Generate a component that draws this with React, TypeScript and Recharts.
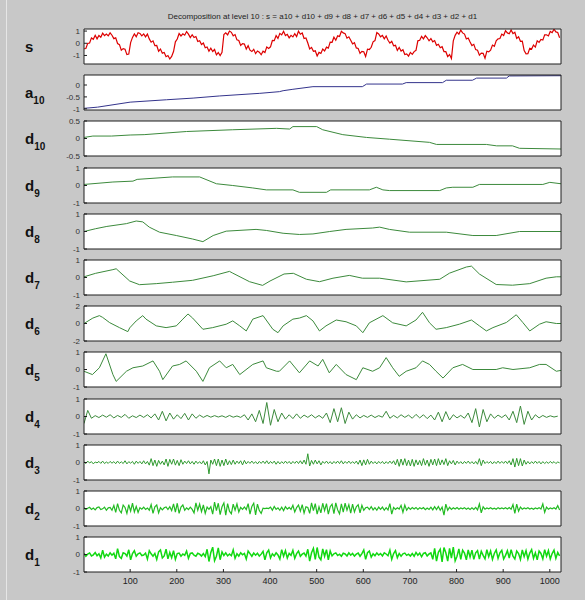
import { LineChart, Line, XAxis, YAxis, CartesianGrid } from 'recharts';

// sample axis 1..1024, ticks every 100
const X_TICKS = [100, 200, 300, 400, 500, 600, 700, 800, 900, 1000];

const S_VALUES = [
  -0.45, -0.43, -0.01, 0.02, 0.44, 0.33, 0.65, 0.36, 0.64, 0.49, 0.83, 0.62, 0.76, 0.61, 0.85, 0.66,
  0.38, 0.44, -0.02, -0.11, -0.57, -0.44, -0.49, -0.93, -0.88, 0.06, 0.48, 0.77, 0.54, 0.86, 0.81, 0.61,
  0.77, 0.52, 0.75, 0.36, 0.09, 0.2, -0.2, -0.18, -0.65, -0.47, -0.81, -0.75, -1.1, -1.01, -1.29, -1.08,
  -0.68, 0.12, 0.35, 0.8, 0.6, 0.77, 0.66, 0.96, 0.75, 0.47, 0.7, 0.47, 0.55, 0.15, 0.21, -0.1,
  0.02, -0.37, -0.31, -0.65, -0.41, -0.67, -0.51, -0.95, -0.76, -1.01, -0.75, 0.72, 0.85, 0.69, 1.0, 0.9,
  0.61, 0.71, 0.28, 0.23, -0.18, -0.03, -0.06, -0.47, -0.2, -0.57, -0.68, -0.5, -0.85, -0.63, -0.73, -0.94,
  -0.65, -0.76, -0.3, -0.42, -0.29, 0.23, 0.22, 0.63, 0.4, 0.81, 0.69, 0.98, 0.63, 0.73, 0.45, 0.65,
  0.52, 0.79, 0.55, 1.0, 0.74, 0.84, 0.39, 0.43, 0.02, -0.47, -0.34, -0.66, -0.62, -1.05, -0.75, -0.83,
  -0.48, -0.63, -0.32, -0.4, 0.09, 0.08, 0.5, 0.25, 0.61, 0.55, 0.98, 0.85, 0.79, 0.42, 0.53, 0.24,
  -0.05, 0.05, -0.38, -0.43, -0.83, -0.67, -0.69, -1.09, -0.48, -0.51, -0.33, 0.12, 0.22, 0.88, 0.76, 0.53,
  0.65, 0.37, 0.6, 0.25, 0.01, 0.16, -0.21, -0.17, -0.58, -0.35, -0.64, -0.53, -0.92, -0.87, -1.05, -0.75,
  -0.91, -0.68, -0.58, 0.2, 0.24, 0.57, 0.36, 0.63, 0.45, 0.2, 0.39, 0.12, 0.22, -0.17, -0.08, -0.37,
  -0.28, -0.68, -0.69, -1.09, -0.93, -1.25, 0.2, 0.65, 0.91, 0.75, 1.08, 0.85, 0.75, 0.35, 0.43, 0.1,
  -0.19, -0.09, -0.52, -0.57, -0.97, -0.81, -0.83, -1.23, -0.65, -0.71, -0.57, -0.15, -0.25, 0.21, 0.36, 0.39,
  0.75, 0.64, 1.03, 0.85, 0.78, 1.09, 0.79, 0.9, 0.4, 0.54, 0.16, 0.18, -0.6, -0.87, -0.85, -0.41,
  -0.48, -0.15, -0.31, 0.2, 0.07, 0.31, 0.26, 0.69, 0.69, 0.6, 0.97, 0.87, 1.15, 0.93, 0.88, 0.45,
];

// smooth components: [sample, value] vertices
const A10_PTS = [
  [1, -0.98], [30, -0.93], [100, -0.72], [178, -0.62], [235, -0.55], [292, -0.46], [378, -0.35],
  [420, -0.28], [428, -0.24], [449, -0.18], [492, -0.07], [598, -0.07], [607, 0.04], [684, 0.04],
  [692, 0.1], [770, 0.1], [778, 0.2], [834, 0.2], [843, 0.29], [907, 0.29], [913, 0.38], [1024, 0.39],
];
const D10_PTS = [
  [1, 0.03], [20, 0.07], [60, 0.07], [100, 0.1], [130, 0.11], [221, 0.2], [320, 0.25], [414, 0.29],
  [442, 0.27], [449, 0.34], [500, 0.34], [513, 0.25], [556, 0.11], [607, 0.03], [656, -0.02],
  [742, -0.11], [757, -0.17], [864, -0.17], [886, -0.21], [920, -0.21], [935, -0.28], [1024, -0.3],
];
const D9_PTS = [
  [1, 0.06], [63, 0.2], [106, 0.25], [115, 0.35], [191, 0.49], [249, 0.49], [285, 0.1], [320, 0],
  [363, -0.14], [392, -0.25], [449, -0.25], [463, -0.39], [521, -0.39], [530, -0.25], [613, -0.25],
  [628, -0.1], [642, -0.25], [656, -0.29], [764, -0.29], [778, -0.14], [792, -0.1], [835, -0.1],
  [849, 0.06], [985, 0.06], [1000, 0.18], [1024, 0.1],
];
const D8_PTS = [
  [1, 0], [26, 0.16], [50, 0.29], [92, 0.45], [113, 0.6], [127, 0.55], [141, 0.25], [163, -0.04],
  [199, -0.23], [234, -0.43], [256, -0.58], [278, -0.23], [306, 0.02], [370, 0.12], [392, 0.06],
  [428, -0.1], [463, -0.17], [492, -0.14], [528, 0], [563, 0.12], [620, 0.2], [635, 0.25], [656, 0.12],
  [699, -0.04], [778, -0.04], [835, -0.23], [885, -0.23], [935, 0], [1024, 0],
];
const D7_PTS = [
  [1, 0.04], [26, 0.24], [63, 0.45], [70, 0.5], [99, -0.2], [120, -0.41], [156, -0.35], [191, -0.27],
  [234, -0.16], [278, 0.1], [313, 0.35], [320, 0.25], [356, -0.24], [384, -0.45], [400, -0.2],
  [430, 0.2], [450, 0.24], [478, -0.1], [506, -0.24], [535, -0.04], [570, 0.12], [598, -0.04],
  [635, -0.04], [692, -0.25], [764, -0.1], [785, 0.25], [821, 0.6], [832, 0.65], [849, 0.2],
  [885, -0.4], [920, -0.44], [957, -0.35], [992, -0.04], [1014, 0.04], [1024, 0.04],
];
const D6_PTS = [
  [1, 0], [20, 0.62], [34, 0.9], [41, 0.7], [56, 0.1], [77, -0.47], [95, -0.93], [99, -0.5], [113, 0.3],
  [127, 0.9], [134, 0.5], [156, -0.27], [177, -0.47], [199, -0.27], [213, 0.5], [224, 1.09], [234, 0.62],
  [256, -0.66], [277, -0.47], [306, -0.08], [320, 0.3], [335, -0.27], [349, -0.85], [363, 0.5],
  [385, 0.9], [406, -0.66], [417, -1.05], [428, -0.27], [449, 0.5], [463, 0.62], [478, 0.9], [492, 0.3],
  [506, -0.85], [520, -0.27], [542, 0.4], [563, 0.2], [585, -0.27], [599, -1.05], [613, 0.08],
  [642, 0.9], [663, 0.08], [692, -0.27], [713, 0.4], [727, 1.28], [742, 0.08], [756, -0.66],
  [778, -0.47], [806, -0.08], [832, 0.4], [849, -0.27], [864, -0.85], [878, -0.47], [907, 0.12],
  [928, 1.0], [942, 0.12], [957, -0.85], [978, -0.08], [992, 0.2], [1014, 0], [1024, 0],
];
const D5_PTS = [
  [1, -0.1], [19, -0.29], [34, 0.1], [48, 0.9], [63, -0.29], [70, -0.68], [92, -0.1], [106, 0.1],
  [127, 0.2], [149, 0.49], [163, -0.1], [170, -0.58], [191, 0.2], [206, 0.29], [220, 0.49], [242, -0.1],
  [256, -0.68], [270, 0.1], [292, 0.49], [306, 0.1], [320, 0.29], [335, -0.29], [363, 0.29], [385, 0.49],
  [392, 0.1], [414, -0.1], [420, -0.1], [442, 0.49], [463, -0.19], [485, 0.49], [503, 0.2], [513, 0.58],
  [527, -0.19], [542, 0.29], [563, -0.29], [585, -0.58], [599, 0.1], [620, -0.1], [635, 0.1],
  [649, 0.68], [663, 0.1], [677, -0.39], [692, -0.1], [713, 0.1], [727, 0.49], [742, 0.29],
  [756, -0.1], [771, -0.49], [792, 0.1], [813, 0.29], [835, 0], [885, 0], [899, 0.1], [921, 0],
  [957, 0.1], [978, 0.29], [992, 0.29], [1014, -0.1], [1024, -0.05],
];

// d4 sampled every 8 points
const D4_VALUES = [
  -0.4, 0.35, -0.1, 0.05, -0.06, 0.08, -0.04, 0.1, -0.08, 0.06, -0.05, 0.12, -0.1, 0.04, -0.06, 0.08,
  -0.05, 0.1, -0.08, 0.15, -0.2, 0.3, -0.25, 0.2, -0.15, 0.1, -0.12, 0.18, -0.2, 0.15, -0.1, 0.08,
  -0.05, 0.06, -0.04, 0.05, -0.03, 0.04, -0.05, 0.06, -0.04, 0.03, -0.05, 0.1, -0.2, 0.15, -0.3, 0.35,
  -0.4, 0.8, -0.5, 0.4, -0.3, 0.2, -0.15, 0.1, -0.12, 0.15, -0.1, 0.08, -0.05, 0.1, -0.08, 0.06,
  -0.1, 0.2, -0.35, 0.45, -0.3, 0.5, -0.4, 0.25, -0.15, 0.1, -0.08, 0.06, -0.05, 0.08, -0.06, 0.05,
  -0.04, 0.3, -0.1, 0.06, -0.08, 0.1, -0.05, 0.08, -0.1, 0.12, -0.08, 0.1, -0.12, 0.08, -0.2, 0.25,
  -0.3, 0.28, -0.2, 0.1, -0.08, 0.06, -0.1, 0.2, -0.35, 0.45, -0.6, 0.4, -0.3, 0.15, -0.1, 0.08,
  -0.06, 0.1, -0.2, 0.3, -0.35, 0.6, -0.45, 0.3, -0.2, 0.1, -0.08, 0.06, -0.05, 0.04, -0.03, 0.02,
];

// d3, d2, d1 sampled every 4 points
const D3_VALUES = [
  0.04, -0.06, 0.08, -0.03, 0.05, -0.08, 0.03, -0.02, 0.06, -0.05, 0.08, -0.06, 0.03, -0.05, 0.06, -0.04,
  0.05, -0.07, 0.08, -0.05, 0.04, -0.06, 0.1, -0.08, 0.05, -0.04, 0.06, -0.1, 0.08, -0.05, 0.06, -0.08,
  0.1, -0.08, 0.06, -0.15, 0.22, -0.18, 0.14, -0.22, 0.12, -0.1, 0.08, -0.14, 0.2, -0.22, 0.18, -0.1,
  0.2, -0.15, 0.12, -0.18, 0.16, -0.1, 0.08, -0.06, 0.1, -0.08, 0.06, -0.1, 0.08, -0.06, 0.05, -0.08,
  0.1, -0.14, 0.06, -0.65, 0.14, -0.1, 0.2, -0.18, 0.2, -0.22, 0.14, -0.18, 0.2, -0.14, 0.1, -0.12,
  0.14, -0.1, 0.08, -0.06, 0.1, -0.14, 0.12, -0.08, 0.06, -0.05, 0.08, -0.06, 0.05, -0.08, 0.06, -0.05,
  0.08, -0.06, 0.1, -0.08, 0.06, -0.05, 0.08, -0.1, 0.06, -0.08, 0.05, -0.06, 0.08, -0.05, 0.06, -0.08,
  0.06, -0.05, 0.08, -0.06, 0.1, -0.08, 0.14, -0.1, 0.5, -0.2, 0.12, -0.1, 0.14, -0.08, 0.1, -0.14,
  0.06, -0.05, 0.08, -0.06, 0.05, -0.08, 0.06, -0.05, 0.08, -0.06, 0.1, -0.08, 0.06, -0.05, 0.08, -0.06,
  0.05, -0.06, 0.08, -0.1, 0.14, -0.18, 0.15, -0.14, 0.18, -0.1, 0.08, -0.06, 0.05, -0.08, 0.06, -0.05,
  0.06, -0.08, 0.05, -0.06, 0.08, -0.06, 0.1, -0.14, 0.18, -0.22, 0.2, -0.15, 0.22, -0.18, 0.14, -0.2,
  0.18, -0.22, 0.15, -0.14, 0.12, -0.18, 0.22, -0.15, 0.14, -0.22, 0.18, -0.14, 0.2, -0.18, 0.22, -0.14,
  0.15, -0.12, 0.22, -0.18, 0.1, -0.08, 0.12, -0.14, 0.08, -0.06, 0.05, -0.08, 0.06, -0.05, 0.08, -0.06,
  0.05, -0.08, 0.06, -0.1, 0.22, -0.18, 0.14, -0.06, 0.05, -0.04, 0.06, -0.08, 0.05, -0.06, 0.08, -0.05,
  0.06, -0.05, 0.08, -0.06, 0.1, -0.14, 0.22, -0.26, 0.24, -0.18, 0.22, -0.2, 0.14, -0.1, 0.06, -0.08,
  0.05, -0.06, 0.08, -0.05, 0.06, -0.08, 0.05, -0.06, 0.04, -0.05, 0.06, -0.04, 0.05, -0.06, 0.03, -0.02,
];
const D2_VALUES = [
  0.04, -0.06, 0.02, 0.07, -0.05, 0.03, -0.08, 0.05, 0.09, -0.06, -0.02, 0.08, -0.1, 0.04, 0.06, -0.1,
  0.18, -0.22, 0.28, -0.1, -0.25, 0.2, 0.06, -0.28, 0.22, -0.15, 0.3, -0.2, 0.12, -0.22, 0.05, -0.04,
  0.08, -0.05, 0.03, -0.1, 0.22, -0.28, 0.1, 0.2, -0.25, 0.05, -0.08, 0.04, 0.09, -0.06, 0.1, -0.12,
  0.26, -0.2, 0.3, -0.28, 0.08, 0.2, -0.1, 0.04, -0.06, 0.08, -0.05, -0.25, 0.32, -0.1, 0.25, -0.18,
  0.2, -0.28, 0.08, -0.05, 0.1, -0.32, 0.36, -0.12, 0.3, -0.35, 0.1, 0.32, -0.38, 0.28, -0.15, -0.3,
  0.25, -0.1, 0.26, -0.2, 0.06, -0.05, 0.09, -0.06, 0.28, -0.32, 0.12, 0.3, -0.36, 0.25, -0.12, -0.28,
  0.02, -0.01, 0.02, 0.0, 0.08, -0.1, 0.12, -0.05, 0.04, -0.1, 0.08, -0.12, 0.1, -0.04, 0.06, -0.05,
  0.18, -0.2, 0.05, 0.2, -0.15, 0.22, -0.26, 0.1, 0.06, -0.28, 0.32, -0.12, 0.28, -0.32, 0.1, -0.25,
  0.3, -0.12, 0.28, -0.32, 0.1, 0.25, -0.3, 0.32, -0.08, -0.3, 0.26, -0.2, 0.3, -0.1, 0.22, -0.26,
  0.25, -0.2, 0.1, 0.22, -0.25, 0.18, -0.1, 0.04, 0.08, -0.06, 0.1, -0.08, 0.05, -0.1, 0.08, -0.05,
  0.08, -0.1, 0.05, -0.08, 0.28, -0.32, 0.06, -0.05, 0.04, -0.03, 0.18, -0.22, 0.2, -0.1, 0.06, -0.05,
  0.05, -0.03, 0.06, -0.05, 0.04, -0.02, 0.05, -0.07, 0.03, -0.05, 0.07, -0.08, 0.1, -0.06, 0.12, -0.1,
  0.08, -0.38, 0.25, -0.1, 0.07, -0.05, 0.04, -0.03, 0.06, -0.04, 0.03, -0.02, 0.05, -0.04, 0.03, -0.05,
  0.04, -0.05, 0.06, -0.08, 0.26, -0.25, 0.1, -0.04, 0.03, -0.02, 0.04, -0.03, 0.02, -0.04, 0.05, -0.02,
  0.03, -0.02, 0.04, -0.03, 0.06, -0.04, 0.22, -0.28, 0.25, -0.15, 0.08, -0.04, 0.03, -0.02, 0.04, -0.03,
  0.02, -0.04, 0.03, -0.02, 0.05, -0.03, 0.26, -0.22, 0.08, -0.04, 0.03, -0.02, 0.04, -0.03, 0.16, -0.08,
];
const D1_VALUES = [
  0.06, -0.1, 0.03, 0.09, -0.08, -0.02, 0.11, -0.07, 0.04, -0.2, 0.24, -0.15, 0.02, -0.09, 0.1, -0.04,
  0.07, -0.25, 0.33, -0.12, -0.22, 0.1, 0.05, -0.09, 0.27, -0.3, 0.05, 0.22, -0.1, 0.04, 0.09, -0.06,
  -0.03, 0.08, -0.26, 0.22, 0.04, -0.1, 0.06, -0.28, 0.15, 0.26, -0.2, -0.08, 0.3, -0.25, 0.12, -0.18,
  0.22, -0.28, 0.05, 0.08, -0.1, 0.03, -0.05, 0.2, -0.22, 0.06, 0.09, -0.04, -0.1, 0.07, 0.02, -0.09,
  0.05, -0.12, 0.3, -0.4, 0.12, 0.42, -0.35, -0.1, 0.38, -0.3, 0.15, -0.06, 0.09, -0.08, 0.03, -0.07,
  0.26, -0.22, 0.04, -0.09, 0.1, -0.02, 0.06, -0.26, 0.2, 0.05, -0.1, 0.08, -0.04, 0.07, -0.09, 0.02,
  0.18, -0.3, 0.1, 0.25, -0.2, 0.04, -0.08, 0.1, -0.03, -0.26, 0.28, -0.1, 0.22, -0.2, 0.06, -0.05,
  0.24, -0.22, 0.05, 0.2, -0.1, 0.02, 0.08, -0.09, 0.3, -0.38, 0.1, 0.35, -0.28, 0.4, -0.15, -0.3,
  0.32, -0.1, 0.28, -0.3, 0.2, -0.08, 0.04, 0.09, -0.06, 0.02, -0.1, 0.07, 0.03, -0.08, 0.1, -0.04,
  0.06, -0.09, 0.02, 0.08, -0.1, 0.05, 0.26, -0.28, 0.1, 0.2, -0.15, 0.04, -0.07, 0.09, -0.03, 0.05,
  -0.08, 0.1, 0.03, -0.07, 0.25, -0.28, 0.05, 0.22, -0.18, 0.06, -0.1, 0.04, 0.08, -0.05, 0.02, -0.09,
  0.05, -0.1, 0.12, -0.04, 0.08, -0.13, 0.06, 0.1, -0.08, 0.03, 0.09, -0.28, 0.35, -0.38, 0.12, 0.3,
  -0.42, 0.4, 0.1, -0.38, 0.35, -0.2, 0.42, -0.36, -0.1, 0.32, -0.28, 0.25, 0.08, -0.3, 0.26, -0.15,
  0.25, -0.28, 0.1, 0.22, -0.26, 0.18, -0.05, -0.25, 0.28, -0.12, 0.2, -0.28, 0.06, 0.26, -0.22, 0.1,
  0.24, -0.26, -0.05, 0.22, -0.2, 0.28, -0.1, -0.25, 0.2, 0.05, -0.28, 0.26, -0.12, 0.22, -0.26, 0.08,
  0.28, -0.22, 0.1, -0.3, 0.2, 0.06, -0.25, 0.28, -0.1, 0.22, -0.26, 0.05, 0.25, -0.22, 0.12, -0.08,
];

type Pt = { t: number; v: number };

const fromGrid = (vals: number[], step: number): Pt[] => vals.map((v, i) => ({ t: 1 + i * step, v }));
const fromPairs = (pairs: number[][]): Pt[] => pairs.map(([t, v]) => ({ t, v }));

interface PanelDef {
  name: string;
  sub?: string;
  data: Pt[];
  domain: [number, number];
  ticks: number[];
  color: string;
  width?: number;
}

const SIGNAL = '#dd0000';
const APPROX = '#34348c';
const DETAIL = '#3c8a3c';

const PANELS: PanelDef[] = [
  { name: 's', data: fromGrid(S_VALUES, 4), domain: [-1.7, 1.17], ticks: [-1, 0, 1], color: SIGNAL, width: 1.2 },
  { name: 'a', sub: '10', data: fromPairs(A10_PTS), domain: [-1.05, 0.42], ticks: [-1, -0.5, 0], color: APPROX },
  { name: 'd', sub: '10', data: fromPairs(D10_PTS), domain: [-0.5, 0.5], ticks: [-0.5, 0, 0.5], color: DETAIL },
  { name: 'd', sub: '9', data: fromPairs(D9_PTS), domain: [-1, 1], ticks: [-1, 0, 1], color: DETAIL },
  { name: 'd', sub: '8', data: fromPairs(D8_PTS), domain: [-1, 1], ticks: [-1, 0, 1], color: DETAIL },
  { name: 'd', sub: '7', data: fromPairs(D7_PTS), domain: [-1, 1], ticks: [-1, 0, 1], color: DETAIL },
  { name: 'd', sub: '6', data: fromPairs(D6_PTS), domain: [-2, 2], ticks: [-2, 0, 2], color: DETAIL },
  { name: 'd', sub: '5', data: fromPairs(D5_PTS), domain: [-1, 1], ticks: [-1, 0, 1], color: DETAIL },
  { name: 'd', sub: '4', data: fromGrid(D4_VALUES, 8), domain: [-1, 1], ticks: [-1, 0, 1], color: DETAIL },
  { name: 'd', sub: '3', data: fromGrid(D3_VALUES, 4), domain: [-1, 1], ticks: [-1, 0, 1], color: '#2f9a2f' },
  { name: 'd', sub: '2', data: fromGrid(D2_VALUES, 4), domain: [-1, 1], ticks: [-1, 0, 1], color: '#22bb22', width: 1.2 },
  { name: 'd', sub: '1', data: fromGrid(D1_VALUES, 4), domain: [-1, 1], ticks: [-1, 0, 1], color: '#11d811', width: 1.5 },
];

const W = 585;
const PLOT_LEFT = 84;
const PLOT_RIGHT = 561;
const FIRST_TOP = 29;
const STEP = 46.2;
const PANEL_H = 35;
const FONT = 'Arial, "Liberation Sans", Helvetica, sans-serif';
const AXIS = '#1e1e1e';

function Panel({ p, index, last }: { p: PanelDef; index: number; last: boolean }) {
  const top = Math.round(FIRST_TOP + index * STEP);
  const bottomAxisH = last ? 22 : 1;
  const mTop = 4;
  const height = mTop + 1 + PANEL_H + bottomAxisH + 4;
  const center = top + PANEL_H / 2;

  return (
    <>
      <div
        style={{
          position: 'absolute',
          left: 25,
          top: center - 9,
          font: `bold 15px ${FONT}`,
          color: '#111',
          lineHeight: '18px',
          whiteSpace: 'nowrap',
        }}
      >
        {p.name}
        {p.sub && <span style={{ fontSize: 10, position: 'relative', top: 6 }}>{p.sub}</span>}
      </div>
      <div style={{ position: 'absolute', left: 0, top: top - mTop - 1 }}>
        <LineChart
          width={W}
          height={height}
          data={p.data}
          margin={{ top: mTop, right: W - PLOT_RIGHT - 1, bottom: 4, left: 0 }}
        >
          <CartesianGrid fill="#ffffff" horizontal={false} vertical={false} xAxisId="b" yAxisId="l" />
          <XAxis
            xAxisId="top"
            orientation="top"
            dataKey="t"
            type="number"
            domain={[1, 1024]}
            ticks={X_TICKS}
            allowDataOverflow
            height={1}
            tickSize={-3}
            tick={false}
            stroke={AXIS}
          />
          <XAxis
            xAxisId="b"
            dataKey="t"
            type="number"
            domain={[1, 1024]}
            ticks={X_TICKS}
            allowDataOverflow
            height={bottomAxisH}
            tickSize={-3}
            tickMargin={9}
            tick={last ? { fontSize: 9, fill: '#222', fontFamily: FONT } : false}
            stroke={AXIS}
          />
          <YAxis
            yAxisId="l"
            type="number"
            domain={p.domain}
            ticks={p.ticks}
            allowDataOverflow
            width={PLOT_LEFT}
            tickSize={-3}
            tickMargin={7}
            tick={{ fontSize: 8, fill: '#333', fontFamily: FONT }}
            stroke={AXIS}
            interval={0}
          />
          <YAxis
            yAxisId="r"
            orientation="right"
            type="number"
            domain={p.domain}
            ticks={p.ticks}
            allowDataOverflow
            width={1}
            tickSize={-3}
            tick={false}
            stroke={AXIS}
          />
          <Line
            xAxisId="b"
            yAxisId="l"
            type="linear"
            dataKey="v"
            stroke={p.color}
            strokeWidth={p.width ?? 1}
            dot={false}
            isAnimationActive={false}
          />
        </LineChart>
      </div>
    </>
  );
}

export default function App() {
  return (
    <div
      style={{
        position: 'absolute',
        left: 0,
        top: 0,
        width: W,
        height: 600,
        background: '#c8c8c8',
        overflow: 'hidden',
        fontFamily: FONT,
      }}
    >
      <div style={{ position: 'absolute', left: 6, top: 0, width: 1, height: 600, background: '#e6e6e6' }} />
      <div
        style={{
          position: 'absolute',
          left: PLOT_LEFT,
          width: PLOT_RIGHT - PLOT_LEFT,
          top: 12,
          textAlign: 'center',
          fontSize: 8,
          color: '#222',
          whiteSpace: 'nowrap',
        }}
      >
        Decomposition at level 10 : s = a10 + d10 + d9 + d8 + d7 + d6 + d5 + d4 + d3 + d2 + d1
      </div>
      {PANELS.map((p, i) => (
        <Panel key={i} p={p} index={i} last={i === PANELS.length - 1} />
      ))}
    </div>
  );
}
